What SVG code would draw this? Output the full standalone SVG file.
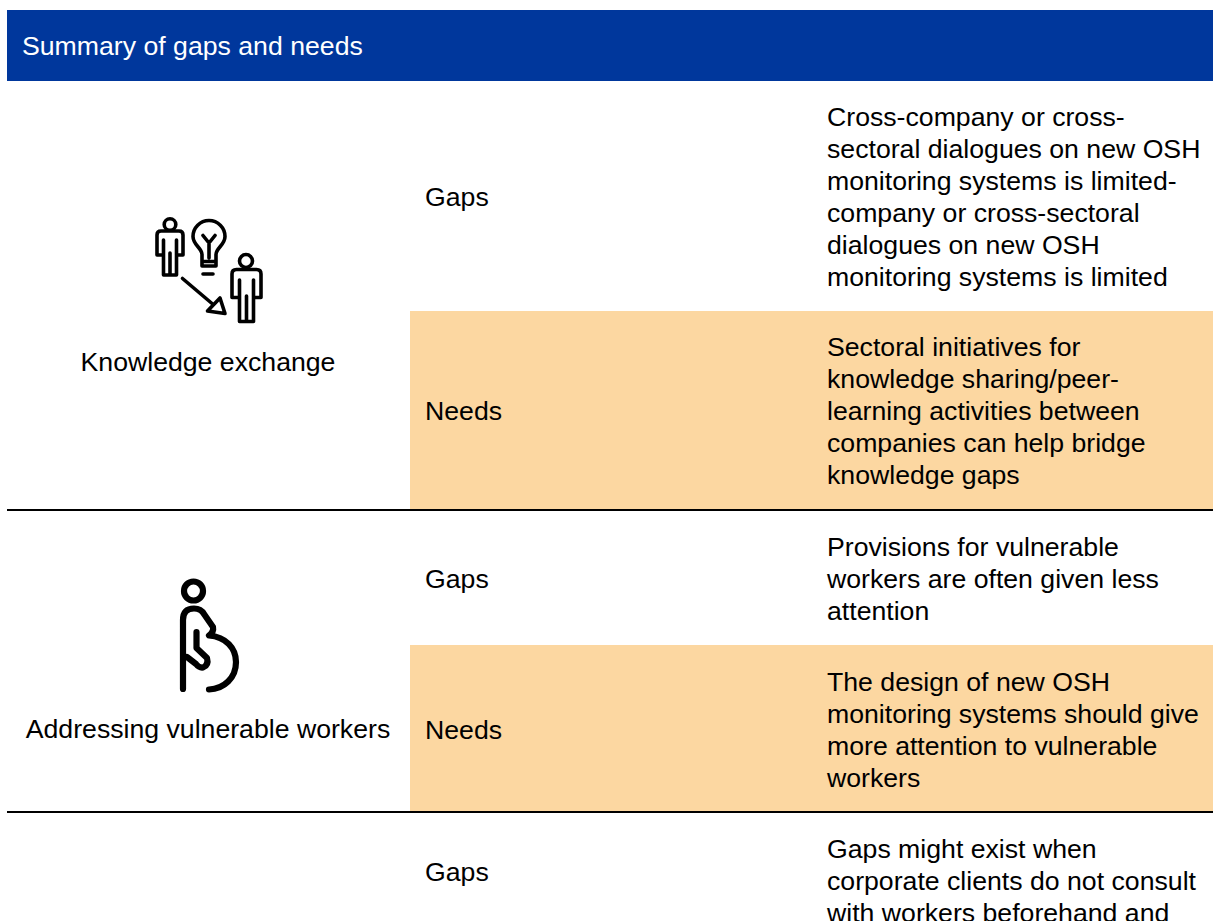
<svg xmlns="http://www.w3.org/2000/svg" width="1213" height="921" viewBox="0 0 1213 921">
<style>
text{font-family:"Liberation Sans",Arial,sans-serif;font-size:26.67px;fill:#000}
.h{fill:#fff}
.m{text-anchor:middle}
.i{fill:none;stroke:#000;stroke-linecap:round;stroke-linejoin:round}
.band{fill:#fcd7a1}
.rule{stroke:#000;stroke-width:2}
</style>
<rect width="1213" height="921" fill="#fff"/>
<g id="header"><rect x="7" y="10" width="1206" height="71" fill="#00379c"/><text class="h" x="22" y="55">Summary of gaps and needs</text></g>
<g id="bands"><rect class="band" x="410" y="311" width="803" height="198"/><rect class="band" x="410" y="645" width="803" height="166"/></g>
<g id="connectors"><line class="rule" x1="7" y1="510" x2="1213" y2="510"/><line class="rule" x1="7" y1="812" x2="1213" y2="812"/></g>
<g id="knowledge-exchange">
<g class="i" stroke-width="3.6">
<circle cx="170" cy="224.5" r="5.8"/>
<path d="M163.500 275V240M176.500 275V240M163.500 275H176.500M170 275V253M163.500 255H157V235Q157 231 161 231H179Q183 231 183 235V255H176.500"/>
<circle cx="246" cy="261" r="6.500"/>
<path d="M239.500 321.500V280M253.500 321.500V280M239.500 321.500H253.500M246.500 321.500V296M239.500 297.500H232V274Q232 269.500 236.500 269.500H256.500Q261 269.500 261 274V297.500H253.500"/>
<path d="M202 266V254.500C202 248 193 245 193 236.500A16 16 0 0 1 225 236.500C225 245 216 248 216 254.500V266H202M202 261.500H216M203 274H213M209 258V243M203 235.500L209 243L215 235.500"/>
<path d="M182.500 278.500L212 303.500M220 298L225 313.500L207.500 311Z"/>
</g>
<text class="m" x="208" y="371">Knowledge exchange</text>
</g>
<g id="knowledge-gaps"><text x="425" y="206">Gaps</text>
<text x="827" y="126">Cross-company or cross-</text><text x="827" y="158">sectoral dialogues on new OSH</text><text x="827" y="190">monitoring systems is limited-</text><text x="827" y="222">company or cross-sectoral</text><text x="827" y="254">dialogues on new OSH</text><text x="827" y="286">monitoring systems is limited</text></g>
<g id="knowledge-needs"><text x="425" y="420">Needs</text>
<text x="827" y="356">Sectoral initiatives for</text><text x="827" y="388">knowledge sharing/peer-</text><text x="827" y="420">learning activities between</text><text x="827" y="452">companies can help bridge</text><text x="827" y="484">knowledge gaps</text></g>
<g id="vulnerable-workers">
<g class="i" stroke-width="6.200">
<circle cx="193.500" cy="591" r="9.500"/>
<path d="M183 689V620Q183 608.500 194 608.500Q201 608.500 204 614L213 627Q214 632 209 635.500C226 637 236 648 236 662C236 678 224 689 209 689.500"/>
<path d="M196.500 632V648L207 658Q209 665 203 667.500Q199 668 196 664L187 657"/>
</g>
<text class="m" x="208" y="738">Addressing vulnerable workers</text>
</g>
<g id="vulnerable-gaps"><text x="425" y="588">Gaps</text>
<text x="827" y="556">Provisions for vulnerable</text><text x="827" y="588">workers are often given less</text><text x="827" y="620">attention</text></g>
<g id="vulnerable-needs"><text x="425" y="739">Needs</text>
<text x="827" y="691">The design of new OSH</text><text x="827" y="723">monitoring systems should give</text><text x="827" y="755">more attention to vulnerable</text><text x="827" y="787">workers</text></g>
<g id="clients-gaps"><text x="425" y="881">Gaps</text>
<text x="827" y="858">Gaps might exist when</text><text x="827" y="890">corporate clients do not consult</text><text x="827" y="922">with workers beforehand and</text></g>
</svg>
